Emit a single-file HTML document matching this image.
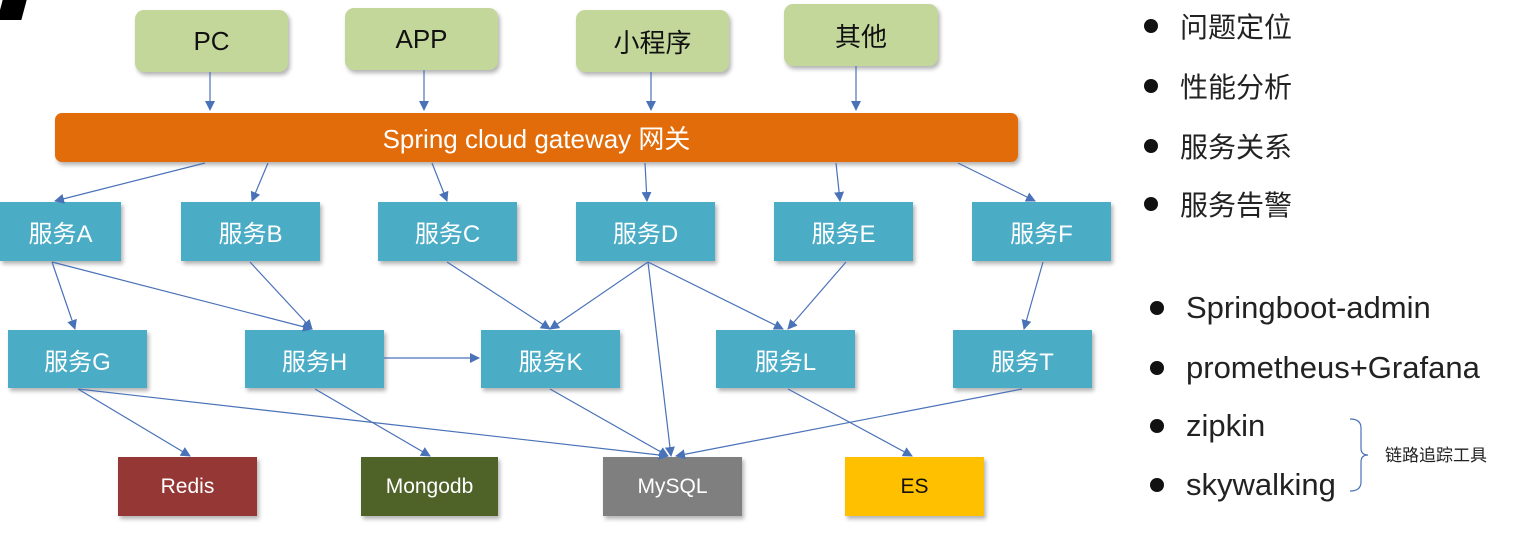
<!DOCTYPE html>
<html><head><meta charset="utf-8"><style>
body{margin:0;width:1534px;height:550px;background:#fff;position:relative;overflow:hidden;font-family:"Liberation Sans","Noto Sans CJK SC",sans-serif}
.b{position:absolute;display:flex;align-items:center;justify-content:center;box-shadow:2px 3px 4px rgba(0,0,0,.3)}
.t{background:#c4d79b;border-radius:9px;color:#111;font-size:26px}
.s{background:#4bacc6;color:#fff;font-size:24px}
.d{color:#fff;font-size:21px}
.r{position:absolute;font-size:28px;color:#222;white-space:nowrap}
.r2{font-size:31px}
.r:before{content:"";position:absolute;left:-36px;top:50%;margin-top:-7px;width:14px;height:14px;border-radius:50%;background:#111}
</style></head><body>
<div style="position:absolute;left:0;top:0;width:24px;height:20px;background:#000;transform:skewX(-15deg)"></div>
<div class="b t" style="left:135px;top:10px;width:153px;height:62px">PC</div>
<div class="b t" style="left:345px;top:8px;width:153px;height:62px">APP</div>
<div class="b t" style="left:576px;top:10px;width:153px;height:62px">小程序</div>
<div class="b t" style="left:784px;top:4px;width:154px;height:62px">其他</div>
<div class="b" style="left:55px;top:113px;width:963px;height:49px;background:#e36c0a;border-radius:7px;color:#fff;font-size:26px">Spring cloud gateway 网关</div>
<div class="b s" style="left:0;top:202px;width:121px;height:59px">服务A</div>
<div class="b s" style="left:181px;top:202px;width:139px;height:59px">服务B</div>
<div class="b s" style="left:378px;top:202px;width:139px;height:59px">服务C</div>
<div class="b s" style="left:576px;top:202px;width:139px;height:59px">服务D</div>
<div class="b s" style="left:774px;top:202px;width:139px;height:59px">服务E</div>
<div class="b s" style="left:972px;top:202px;width:139px;height:59px">服务F</div>
<div class="b s" style="left:8px;top:330px;width:139px;height:58px">服务G</div>
<div class="b s" style="left:245px;top:330px;width:139px;height:58px">服务H</div>
<div class="b s" style="left:481px;top:330px;width:139px;height:58px">服务K</div>
<div class="b s" style="left:716px;top:330px;width:139px;height:58px">服务L</div>
<div class="b s" style="left:953px;top:330px;width:139px;height:58px">服务T</div>
<div class="b d" style="left:118px;top:457px;width:139px;height:59px;background:#953735">Redis</div>
<div class="b d" style="left:361px;top:457px;width:137px;height:59px;background:#4f6228">Mongodb</div>
<div class="b d" style="left:603px;top:457px;width:139px;height:59px;background:#7f7f7f">MySQL</div>
<div class="b d" style="left:845px;top:457px;width:139px;height:59px;background:#ffc000;color:#111">ES</div>
<svg width="1534" height="550" style="position:absolute;left:0;top:0">
<defs><marker id="a" markerWidth="10" markerHeight="10" refX="9" refY="5" orient="auto" markerUnits="userSpaceOnUse"><path d="M0,0L10,5L0,10z" fill="#4a72b8"/></marker></defs>
<g stroke="#4a72b8" stroke-width="1.2" marker-end="url(#a)">
<line x1="210" y1="72" x2="210" y2="110"/><line x1="424" y1="70" x2="424" y2="110"/><line x1="651" y1="72" x2="651" y2="110"/><line x1="856" y1="66" x2="856" y2="110"/>
<line x1="205" y1="163" x2="55" y2="201"/><line x1="268" y1="163" x2="252" y2="201"/><line x1="432" y1="163" x2="447" y2="201"/><line x1="645" y1="163" x2="647" y2="201"/><line x1="836" y1="163" x2="840" y2="201"/><line x1="958" y1="163" x2="1035" y2="201"/>
<line x1="52" y1="262" x2="75" y2="329"/><line x1="52" y1="262" x2="312" y2="329"/><line x1="250" y1="262" x2="312" y2="329"/><line x1="447" y1="262" x2="550" y2="329"/><line x1="648" y1="262" x2="550" y2="329"/><line x1="648" y1="262" x2="783" y2="329"/><line x1="846" y1="262" x2="788" y2="329"/><line x1="1043" y1="262" x2="1024" y2="329"/>
<line x1="384" y1="358" x2="479" y2="358"/>
<line x1="78" y1="389" x2="190" y2="456"/><line x1="78" y1="389" x2="668" y2="456"/><line x1="315" y1="389" x2="430" y2="456"/><line x1="550" y1="389" x2="668" y2="456"/><line x1="648" y1="262" x2="671" y2="456"/><line x1="1022" y1="389" x2="676" y2="456"/><line x1="788" y1="389" x2="912" y2="456"/>
</g>
<path d="M1350,419 Q1361,419 1361,428 L1361,448 Q1361,455 1368,455 Q1361,455 1361,462 L1361,482 Q1361,491 1350,491" fill="none" stroke="#4a72b8" stroke-width="1.2"/>
</svg>
<div class="r" style="left:1180px;top:6px">问题定位</div>
<div class="r" style="left:1180px;top:66px">性能分析</div>
<div class="r" style="left:1180px;top:126px">服务关系</div>
<div class="r" style="left:1180px;top:184px">服务告警</div>
<div class="r r2" style="left:1186px;top:290px">Springboot-admin</div>
<div class="r r2" style="left:1186px;top:350px">prometheus+Grafana</div>
<div class="r r2" style="left:1186px;top:408px">zipkin</div>
<div class="r r2" style="left:1186px;top:467px">skywalking</div>
<div style="position:absolute;left:1385px;top:441px;font-size:17px;color:#222">链路追踪工具</div>
</body></html>
